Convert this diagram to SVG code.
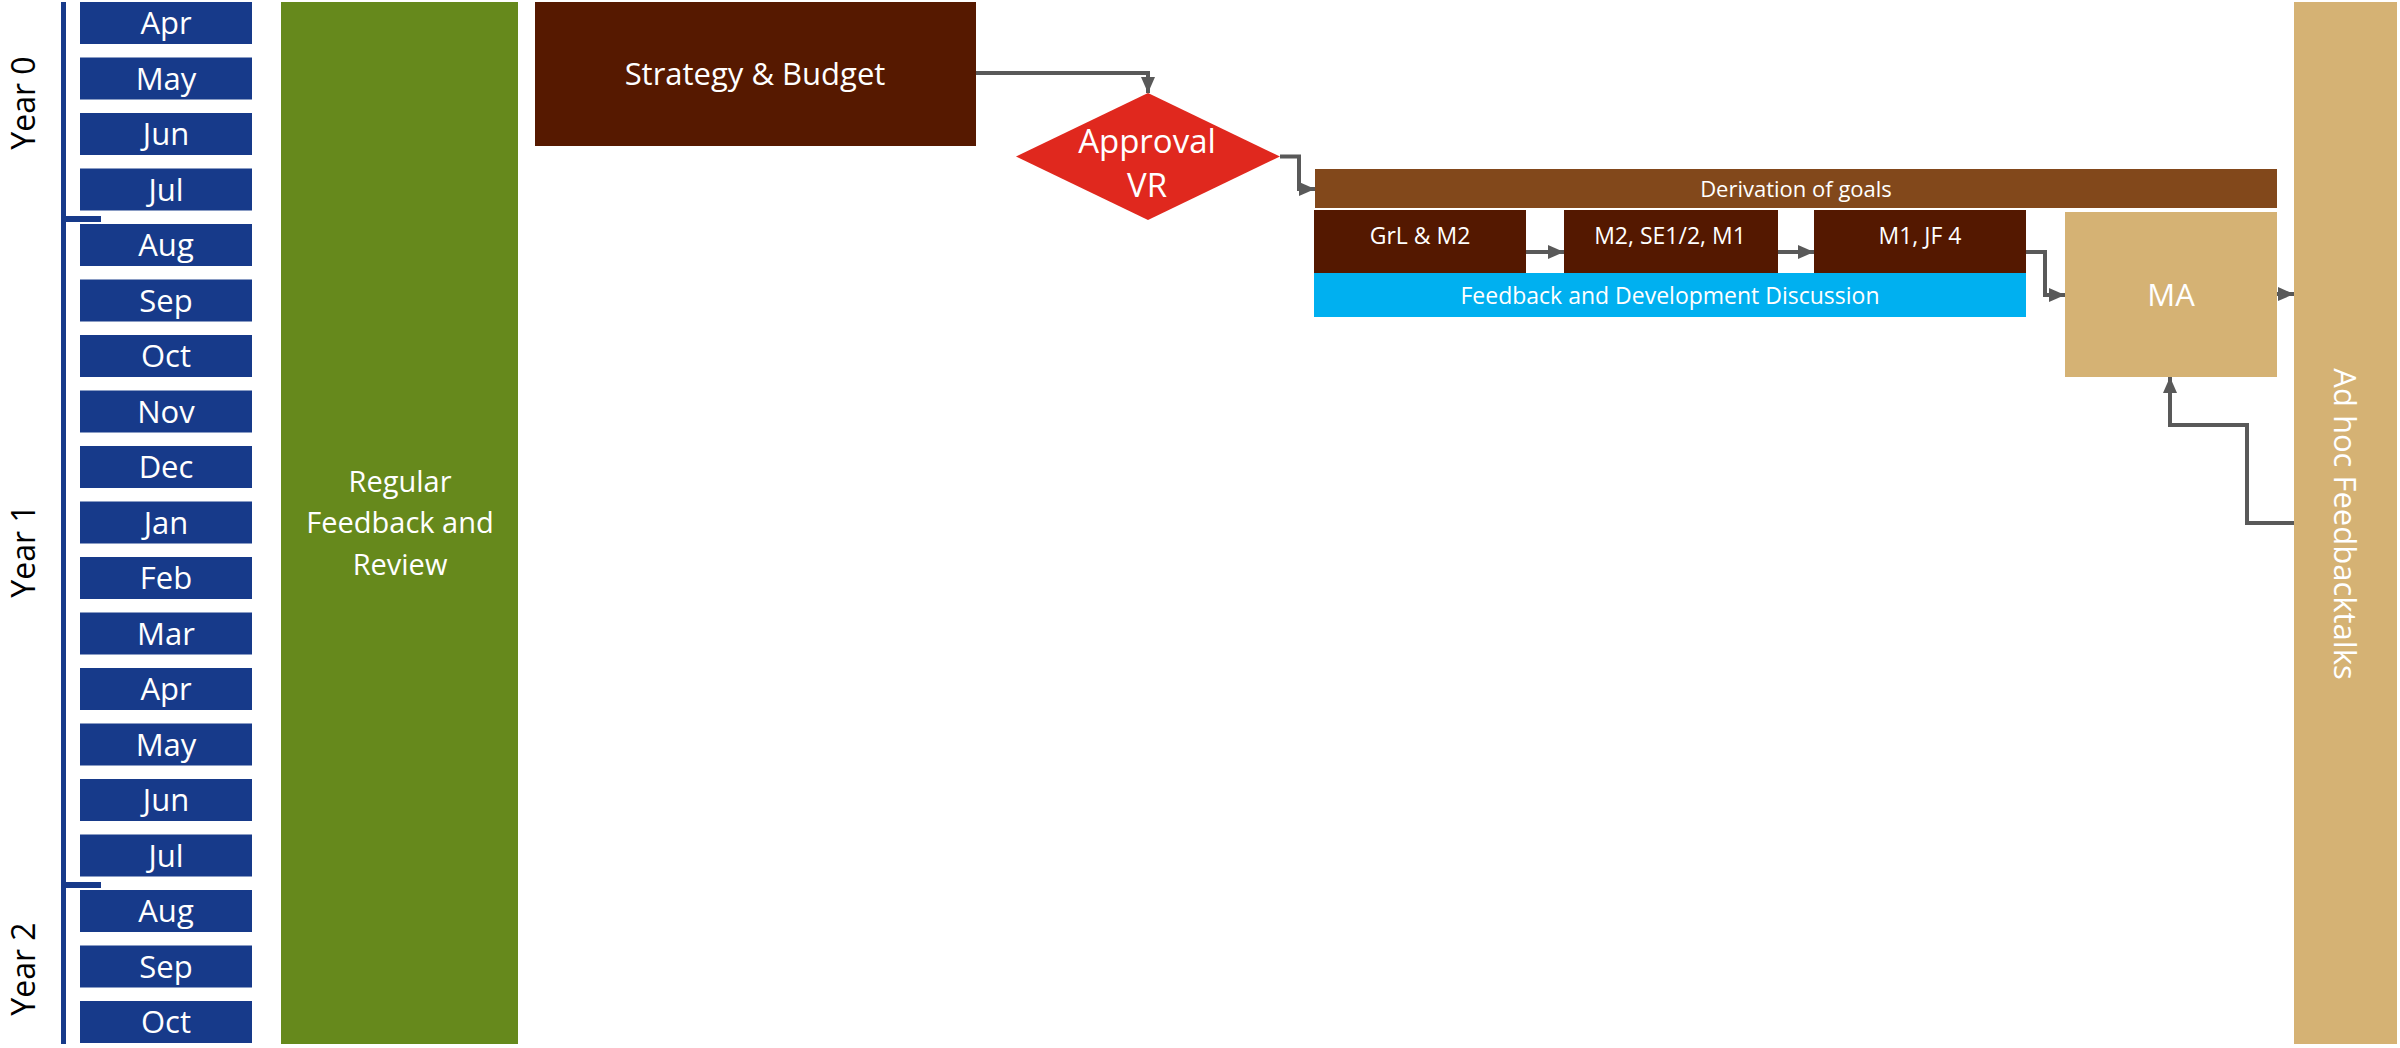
<svg xmlns="http://www.w3.org/2000/svg" width="2400" height="1048" viewBox="0 0 2400 1048">
<defs>
<marker id="arr" markerUnits="userSpaceOnUse" markerWidth="18" markerHeight="16" refX="16" refY="7" orient="auto">
<path d="M0,0 L16,7 L0,14 z" fill="#595959"/>
</marker>
<style>
text{font-family:"Open Sans","Liberation Sans",sans-serif;fill:#fff;text-anchor:middle}
.mon rect{fill:#173A8A}
.mon text{font-size:31px}
.yr{fill:#000;font-size:32px}
.lbl{font-size:23px}
.con path{fill:none;stroke:#595959;stroke-width:4;marker-end:url(#arr)}
</style>
</defs>
<rect width="2400" height="1048" fill="#fff"/>
<g id="bracket" fill="none" stroke="#173A8A">
<path d="M63.5,2 V1044" stroke-width="5"/>
<path d="M61,219 H101" stroke-width="6"/>
<path d="M61,885 H101" stroke-width="6"/>
</g>
<g id="years">
<text class="yr" transform="translate(35,103) rotate(-90)">Year 0</text>
<text class="yr" transform="translate(35,551) rotate(-90)">Year 1</text>
<text class="yr" transform="translate(35,969) rotate(-90)">Year 2</text>
</g>
<g id="months" class="mon">
<g id="m0"><rect x="80" y="2" width="172" height="42"/><text x="166" y="34">Apr</text></g>
<g id="m1"><rect x="80" y="57.5" width="172" height="42"/><text x="166" y="89.5">May</text></g>
<g id="m2"><rect x="80" y="113" width="172" height="42"/><text x="166" y="145">Jun</text></g>
<g id="m3"><rect x="80" y="168.5" width="172" height="42"/><text x="166" y="200.5">Jul</text></g>
<g id="m4"><rect x="80" y="224" width="172" height="42"/><text x="166" y="256">Aug</text></g>
<g id="m5"><rect x="80" y="279.5" width="172" height="42"/><text x="166" y="311.5">Sep</text></g>
<g id="m6"><rect x="80" y="335" width="172" height="42"/><text x="166" y="367">Oct</text></g>
<g id="m7"><rect x="80" y="390.5" width="172" height="42"/><text x="166" y="422.5">Nov</text></g>
<g id="m8"><rect x="80" y="446" width="172" height="42"/><text x="166" y="478">Dec</text></g>
<g id="m9"><rect x="80" y="501.5" width="172" height="42"/><text x="166" y="533.5">Jan</text></g>
<g id="m10"><rect x="80" y="557" width="172" height="42"/><text x="166" y="589">Feb</text></g>
<g id="m11"><rect x="80" y="612.5" width="172" height="42"/><text x="166" y="644.5">Mar</text></g>
<g id="m12"><rect x="80" y="668" width="172" height="42"/><text x="166" y="700">Apr</text></g>
<g id="m13"><rect x="80" y="723.5" width="172" height="42"/><text x="166" y="755.5">May</text></g>
<g id="m14"><rect x="80" y="779" width="172" height="42"/><text x="166" y="811">Jun</text></g>
<g id="m15"><rect x="80" y="834.5" width="172" height="42"/><text x="166" y="866.5">Jul</text></g>
<g id="m16"><rect x="80" y="890" width="172" height="42"/><text x="166" y="922">Aug</text></g>
<g id="m17"><rect x="80" y="945.5" width="172" height="42"/><text x="166" y="977.5">Sep</text></g>
<g id="m18"><rect x="80" y="1001" width="172" height="42"/><text x="166" y="1033">Oct</text></g>
</g>
<g id="regular">
<rect x="281" y="2" width="237" height="1042" fill="#66891C"/>
<text x="400" y="492" font-size="29">Regular</text>
<text x="400" y="533" font-size="29">Feedback and</text>
<text x="400" y="575" font-size="29">Review</text>
</g>
<g id="strategy">
<rect x="535" y="2" width="441" height="144" fill="#561900"/>
<text x="755" y="85" font-size="31">Strategy &amp; Budget</text>
</g>
<g id="approval">
<polygon points="1148,93 1280,156.5 1148,220 1016,156.5" fill="#E0281E"/>
<text x="1147" y="153" font-size="33">Approval</text>
<text x="1147" y="197" font-size="33">VR</text>
</g>
<g id="derivation">
<rect x="1315" y="169" width="962" height="39" fill="#82481B"/>
<text x="1796" y="196.5" font-size="22">Derivation of goals</text>
</g>
<g id="grl">
<rect x="1314" y="210" width="212" height="63" fill="#541800"/>
<text class="lbl" x="1420" y="244">GrL &amp; M2</text>
</g>
<g id="m2se">
<rect x="1564" y="210" width="214" height="63" fill="#541800"/>
<text class="lbl" x="1670" y="244">M2, SE1/2, M1</text>
</g>
<g id="m1jf">
<rect x="1814" y="210" width="212" height="63" fill="#541800"/>
<text class="lbl" x="1920" y="244">M1, JF 4</text>
</g>
<g id="feedbackdev">
<rect x="1314" y="273" width="712" height="44" fill="#00B0F0"/>
<text class="lbl" x="1670" y="304">Feedback and Development Discussion</text>
</g>
<g id="ma">
<rect x="2065" y="212" width="212" height="165" fill="#D5B274"/>
<text x="2171" y="306" font-size="31">MA</text>
</g>
<g id="adhoc">
<rect x="2294" y="2" width="103" height="1042" fill="#D5B274"/>
<text transform="translate(2334,524) rotate(90)" font-size="31">Ad hoc Feedbacktalks</text>
</g>
<g id="connectors" class="con">
<path d="M976,73 H1148 V93"/>
<path d="M1280,156.5 H1299 V189 H1315"/>
<path d="M1526,252 H1564"/>
<path d="M1778,252 H1814"/>
<path d="M2026,252 H2045 V295 H2065"/>
<path d="M2277,294 H2294"/>
<path d="M2294,523 H2247 V425 H2170 V377"/>
</g>
</svg>
